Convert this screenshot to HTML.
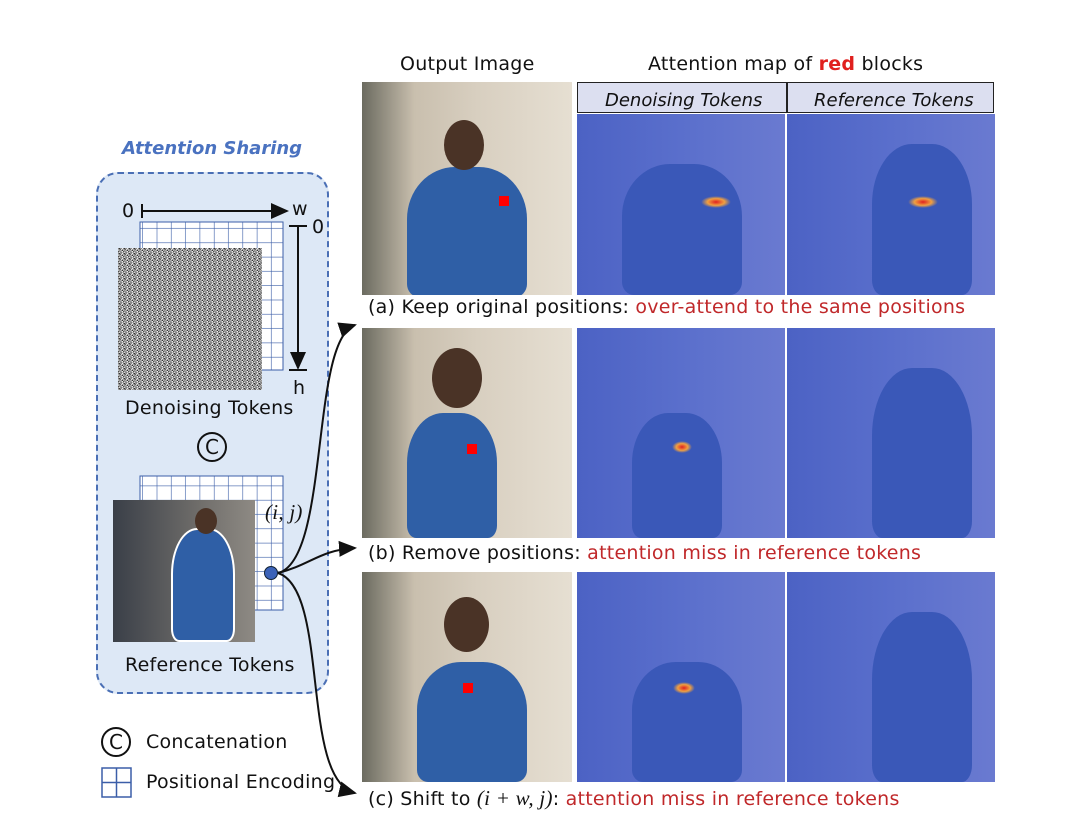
<!DOCTYPE html>
<html><head><meta charset="utf-8"><style>
body{margin:0;background:#fff;width:1080px;height:832px;position:relative;font-family:"DejaVu Sans","Liberation Sans",sans-serif;overflow:hidden}
.a{position:absolute}
.t{position:absolute;font-size:19px;color:#111;white-space:nowrap;letter-spacing:0.25px}
.red{color:#c0282a}
.out{position:absolute;background:linear-gradient(90deg,#6b6b60 0%,#c9bfae 25%,#d8cfc0 55%,#e6dfd2 100%);overflow:hidden}
.att{position:absolute;background:linear-gradient(90deg,#4c62c4,#5a6fcc 50%,#6a7ad0);overflow:hidden}
.person{position:absolute;background:#2f5fa6;border-radius:40% 40% 10% 10%}
.head{position:absolute;background:#4a3326;border-radius:50%}
.rb{position:absolute;width:10px;height:10px;background:#f00}
.hot{position:absolute;width:30px;height:12px;border-radius:50%;background:radial-gradient(#e02020,#f0a040 40%,rgba(90,110,210,0) 70%)}
</style></head><body>
<div class="t" style="left:122px;top:138px;color:#4a72c0;font-weight:bold;font-style:italic;font-size:18px;letter-spacing:0">Attention Sharing</div>
<div class="a" style="left:96px;top:172px;width:229px;height:518px;background:#dde8f6;border:2px dashed #4a6fb5;border-radius:22px"></div>
<svg class="a" style="left:0;top:0" width="1080" height="832">
<defs><pattern id="g" width="14.3" height="14.3" patternUnits="userSpaceOnUse"><path d="M14.3 0V14.3H0" fill="none" stroke="#3b5ea8" stroke-width="1.2"/></pattern>
<marker id="m" markerWidth="10" markerHeight="10" refX="8" refY="5" orient="auto"><path d="M0,1 L9,5 L0,9z" fill="#111"/></marker></defs>
<rect x="140" y="222" width="143" height="148" fill="#fff" stroke="#3b5ea8"/><rect x="140" y="222" width="143" height="148" fill="url(#g)"/>
<rect x="140" y="476" width="143" height="134" fill="#fff" stroke="#3b5ea8"/><rect x="140" y="476" width="143" height="134" fill="url(#g)"/>
<line x1="142" y1="204" x2="142" y2="218" stroke="#111" stroke-width="2"/>
<line x1="142" y1="211" x2="287" y2="211" stroke="#111" stroke-width="2" marker-end="url(#m)"/>
<line x1="289" y1="226" x2="307" y2="226" stroke="#111" stroke-width="2"/>
<line x1="298" y1="226" x2="298" y2="368" stroke="#111" stroke-width="2" marker-end="url(#m)"/>
<line x1="289" y1="370" x2="307" y2="370" stroke="#111" stroke-width="2"/>
<circle cx="212" cy="447" r="14" fill="none" stroke="#111" stroke-width="2"/>
<circle cx="116" cy="742" r="14" fill="none" stroke="#111" stroke-width="2"/>
<rect x="102" y="768" width="29" height="29" fill="none" stroke="#3b5ea8" stroke-width="1.5"/>
<line x1="116.5" y1="768" x2="116.5" y2="797" stroke="#3b5ea8" stroke-width="1.5"/><line x1="102" y1="782.5" x2="131" y2="782.5" stroke="#3b5ea8" stroke-width="1.5"/>
<path d="M278 573 C330 560,310 340,355 325" fill="none" stroke="#111" stroke-width="2" marker-end="url(#m)"/>
<path d="M278 573 C310 565,320 550,355 548" fill="none" stroke="#111" stroke-width="2" marker-end="url(#m)"/>
<path d="M278 573 C330 590,300 780,355 793" fill="none" stroke="#111" stroke-width="2" marker-end="url(#m)"/>
</svg>
<div class="a" style="left:118px;top:248px;width:144px;height:142px;background:repeating-conic-gradient(#333 0 7%,#eee 0 15%,#999 0 22%) 0 0/5px 5px"></div>
<div class="a" style="left:113px;top:500px;width:142px;height:142px;background:linear-gradient(90deg,#3a3f48,#6f6d6a 60%,#8e8a84)"><div class="person" style="left:60px;top:30px;width:60px;height:110px;outline:2px solid #fff"></div><div class="head" style="left:82px;top:8px;width:22px;height:26px"></div></div>
<div class="a" style="left:264px;top:566px;width:12px;height:12px;border-radius:50%;background:#3b62b8;border:1.5px solid #123"></div>
<div class="t" style="left:122px;top:200px">0</div>
<div class="t" style="left:292px;top:198px">w</div>
<div class="t" style="left:312px;top:216px">0</div>
<div class="t" style="left:293px;top:377px">h</div>
<div class="t" style="left:125px;top:397px">Denoising Tokens</div>
<div class="t" style="left:205px;top:435px;font-size:20px">C</div>
<div class="t" style="left:265px;top:500px;font-family:'Liberation Serif',serif;font-style:italic;font-size:21px">(i, j)</div>
<div class="t" style="left:125px;top:654px">Reference Tokens</div>
<div class="t" style="left:109px;top:730px;font-size:20px">C</div>
<div class="t" style="left:146px;top:731px">Concatenation</div>
<div class="t" style="left:146px;top:771px">Positional Encoding</div>
<div class="t" style="left:400px;top:53px">Output Image</div>
<div class="t" style="left:648px;top:53px">Attention map of <b class="red" style="color:#e0201e">red</b> blocks</div>
<div class="a" style="left:577px;top:82px;width:417px;height:31px;background:#dcdff0;border:1.5px solid #222;box-sizing:border-box"></div>
<div class="a" style="left:786px;top:82px;width:1.5px;height:31px;background:#222"></div>
<div class="t" style="left:605px;top:90px;font-style:italic;font-size:18px;letter-spacing:0">Denoising Tokens</div>
<div class="t" style="left:814px;top:90px;font-style:italic;font-size:18px;letter-spacing:0">Reference Tokens</div>

<div class="out" style="left:362px;top:82px;width:210px;height:213px"><div class="person" style="left:45px;top:85px;width:120px;height:130px"></div><div class="head" style="left:82px;top:38px;width:40px;height:50px"></div><div class="rb" style="left:137px;top:114px"></div></div>
<div class="att" style="left:577px;top:114px;width:208px;height:181px"><div class="person" style="left:45px;top:50px;width:120px;height:131px;background:#3a58b8"></div><div class="hot" style="left:124px;top:82px"></div></div>
<div class="att" style="left:787px;top:114px;width:208px;height:181px"><div class="person" style="left:85px;top:30px;width:100px;height:151px;background:#3a58b8"></div><div class="hot" style="left:121px;top:82px"></div></div>
<div class="t" style="left:368px;top:296px">(a) Keep original positions: <span class="red">over-attend to the same positions</span></div>
<div class="out" style="left:362px;top:328px;width:210px;height:210px"><div class="person" style="left:45px;top:85px;width:90px;height:125px"></div><div class="head" style="left:70px;top:20px;width:50px;height:60px"></div><div class="rb" style="left:105px;top:116px"></div></div>
<div class="att" style="left:577px;top:328px;width:208px;height:210px"><div class="person" style="left:55px;top:85px;width:90px;height:125px;background:#3a58b8"></div><div class="hot" style="left:95px;top:113px;width:20px"></div></div>
<div class="att" style="left:787px;top:328px;width:208px;height:210px"><div class="person" style="left:85px;top:40px;width:100px;height:170px;background:#3a58b8"></div></div>
<div class="t" style="left:368px;top:542px">(b) Remove positions: <span class="red">attention miss in reference tokens</span></div>
<div class="out" style="left:362px;top:572px;width:210px;height:210px"><div class="person" style="left:55px;top:90px;width:110px;height:120px"></div><div class="head" style="left:82px;top:25px;width:45px;height:55px"></div><div class="rb" style="left:101px;top:111px"></div></div>
<div class="att" style="left:577px;top:572px;width:208px;height:210px"><div class="person" style="left:55px;top:90px;width:110px;height:120px;background:#3a58b8"></div><div class="hot" style="left:96px;top:110px;width:22px"></div></div>
<div class="att" style="left:787px;top:572px;width:208px;height:210px"><div class="person" style="left:85px;top:40px;width:100px;height:170px;background:#3a58b8"></div></div>
<div class="t" style="left:368px;top:786px">(c) Shift to <span style="font-family:'Liberation Serif',serif;font-style:italic;font-size:21px">(i + w, j)</span>: <span class="red">attention miss in reference tokens</span></div>
</body></html>
